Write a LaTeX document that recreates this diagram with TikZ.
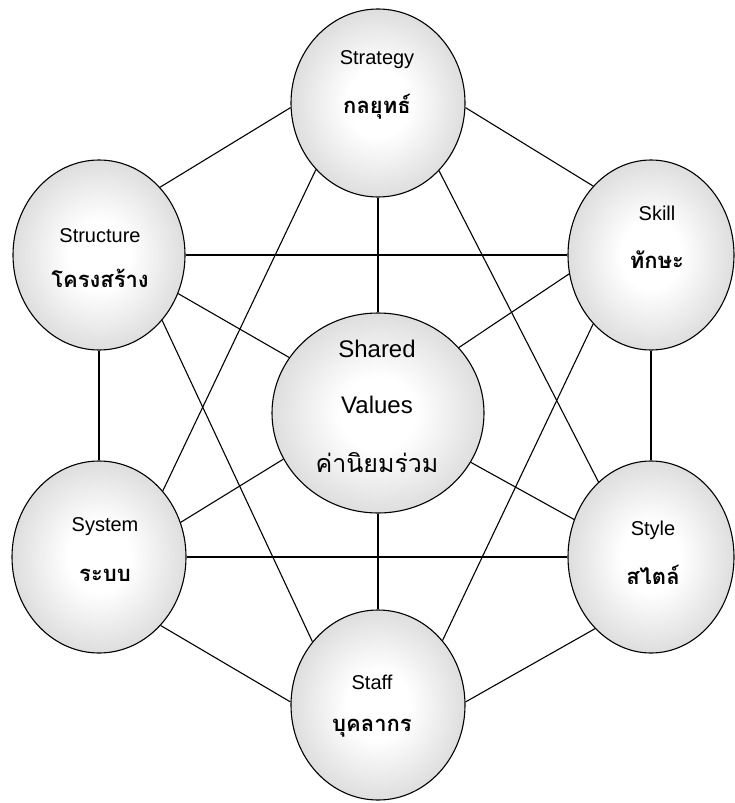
\documentclass[tikz,border=0pt]{standalone}
\usepackage{fontspec}
\setmainfont{Liberation Sans}
\newfontfamily\thaifont[Script=Thai]{Loma}
\usetikzlibrary{shapes.geometric,backgrounds}
\pgfdeclareradialshading{softball}{\pgfpointorigin}{color(0bp)=(white); color(9bp)=(white); color(25bp)=(black!13); color(50bp)=(black!13)}
\begin{document}
\begin{tikzpicture}[x=1pt,y=-1pt,
  ball/.style={ellipse,draw=black,line width=1.1pt,shading=softball,inner sep=0pt},
  link/.style={line width=1.1pt,draw=black},
  en/.style={font=\fontsize{20}{21}\selectfont,inner sep=0pt},
  enbig/.style={font=\fontsize{24}{25}\selectfont,inner sep=0pt},
  th/.style={font=\thaifont\bfseries\fontsize{22}{24}\selectfont,inner sep=0pt},
  thbig/.style={font=\thaifont\fontsize{25}{26}\selectfont,inner sep=0pt}]
\useasboundingbox (0,0) rectangle (734,803);
% circles
\node[ball,minimum width=174pt,minimum height=188pt] (strat) at (378,103) {};
\node[ball,minimum width=172pt,minimum height=190pt] (struct) at (99,255) {};
\node[ball,minimum width=166pt,minimum height=190pt] (skill) at (651,255) {};
\node[ball,minimum width=212pt,minimum height=200pt] (shared) at (378,413) {};
\node[ball,minimum width=174pt,minimum height=192pt] (sys) at (99,557) {};
\node[ball,minimum width=166pt,minimum height=192pt] (style) at (651,557) {};
\node[ball,minimum width=174pt,minimum height=190pt] (staff) at (378,705) {};
% labels
\node[en] (stratA) at (377,60) {Strategy};
\node[th] (stratB) at (377,107) {กลยุทธ์};
\node[en] (structA) at (100,236) {Structure};
\node[th] (structB) at (100,278) {โครงสร้าง};
\node[en] (skillA) at (657,213) {Skill};
\node[th] (skillB) at (657,260) {ทักษะ};
\node[enbig] (sharedA) at (377,349) {Shared};
\node[enbig] (sharedB) at (377,405) {Values};
\node[thbig] (sharedC) at (377,463) {ค่านิยมร่วม};
\node[en] (sysA) at (105,527) {System};
\node[th] (sysB) at (105,575) {ระบบ};
\node[en] (styleA) at (653,530) {Style};
\node[th] (styleB) at (653,575) {สไตล์};
\node[en] (staffA) at (372,682) {Staff};
\node[th] (staffB) at (372,728) {บุคลากร};
% connectors
\begin{pgfonlayer}{background}
\fill[white] (0,0) rectangle (734,803);
\draw[link] (strat.183) -- (struct.48);
\draw[link] (strat.-3) -- (skill.130);
\draw[link] (strat.south) -- (shared.north);
\draw[link] (strat.227) -- (sys.46);
\draw[link] (strat.312) -- (style.125);
\draw[link] (struct.east) -- (skill.west);
\draw[link] (struct.334) -- (shared.148);
\draw[link] (struct.south) -- (sys.north);
\draw[link] (struct.314) -- (staff.136);
\draw[link] (skill.193) -- (shared.39);
\draw[link] (skill.south) -- (style.north);
\draw[link] (skill.230) -- (staff.45);
\draw[link] (sys.23) -- (shared.206);
\draw[link] (sys.east) -- (style.west);
\draw[link] (shared.332) -- (style.154);
\draw[link] (shared.south) -- (staff.north);
\draw[link] (sys.312) -- (staff.178);
\draw[link] (style.232) -- (staff.2);
\end{pgfonlayer}
\end{tikzpicture}
\end{document}
